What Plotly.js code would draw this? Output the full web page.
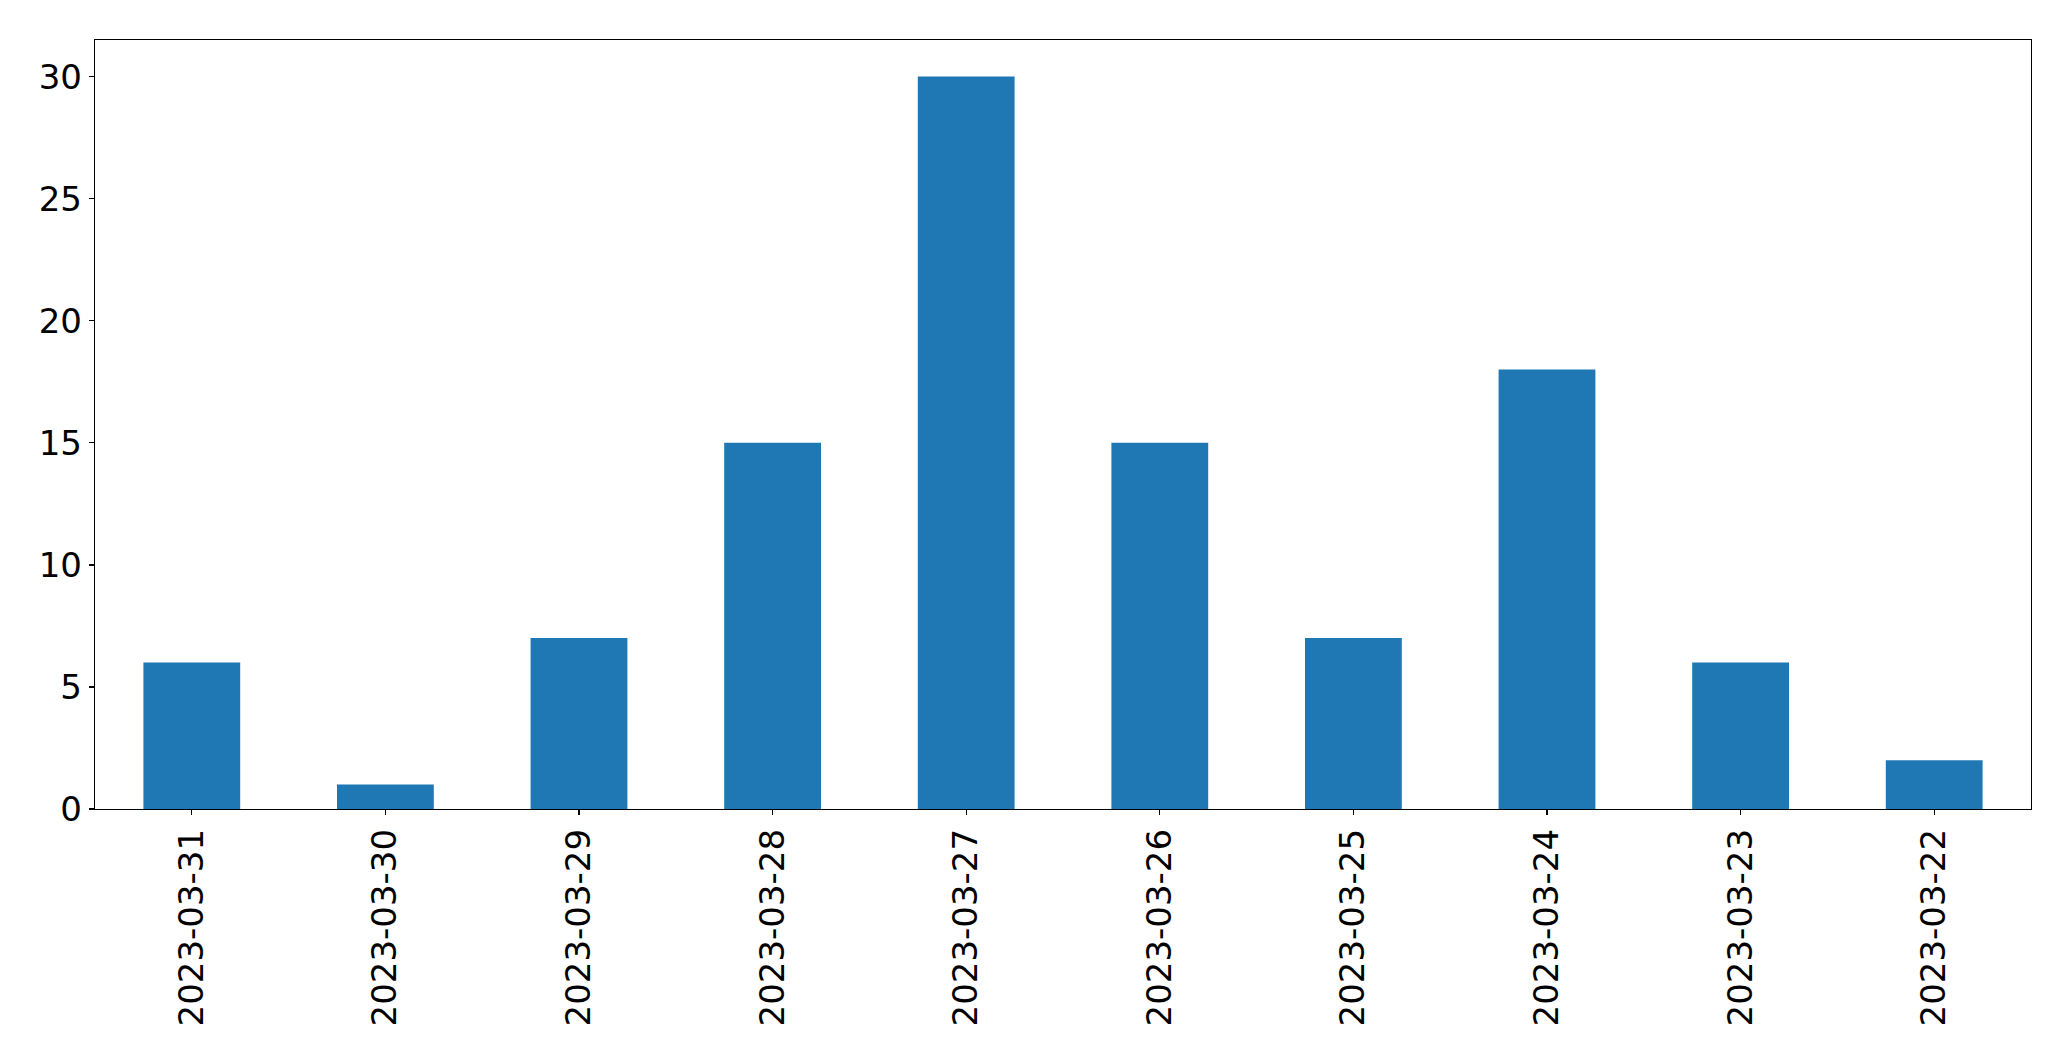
<!DOCTYPE html>
<html>
<head>
<meta charset="utf-8">
<script src="https://cdn.plot.ly/plotly-3.0.1.min.js"></script>
<style>html,body{margin:0;padding:0;background:#fff;}#chart{width:2071px;height:1061px;}</style>
</head>
<body>
<div id="chart"></div>
<script>
const dates = ["2023-03-31","2023-03-30","2023-03-29","2023-03-28","2023-03-27","2023-03-26","2023-03-25","2023-03-24","2023-03-23","2023-03-22"];
const counts = [6, 1, 7, 15, 30, 15, 7, 18, 6, 2];
const yTicks = [0, 5, 10, 15, 20, 25, 30];

const trace = {
  type: "bar",
  x: dates,
  y: counts,
  width: 0.5,
  marker: {color: "#1f77b4", line: {width: 0}},
  hoverinfo: "x+y"
};

const tf = {family: "DejaVu Sans, sans-serif", size: 34, color: "#000"};

const layout = {
  width: 2071,
  height: 1061,
  margin: {l: 94.5, r: 39.5, t: 39.5, b: 252, pad: 0},
  paper_bgcolor: "#fff",
  plot_bgcolor: "#fff",
  showlegend: false,
  bargap: 0.5,
  font: tf,
  xaxis: {
    type: "category",
    range: [-0.5, 9.5],
    tickangle: -90,
    ticks: "outside",
    ticklen: 5,
    tickwidth: 1.3,
    tickcolor: "#000",
    showline: true,
    linecolor: "#000",
    linewidth: 1.3,
    mirror: true,
    showgrid: false,
    zeroline: false,
    tickfont: tf
  },
  yaxis: {
    range: [0, 31.5],
    tickvals: yTicks,
    ticktext: yTicks.map(String),
    ticks: "outside",
    ticklen: 5,
    tickwidth: 1.3,
    tickcolor: "#000",
    showline: true,
    linecolor: "#000",
    linewidth: 1.3,
    mirror: true,
    showgrid: false,
    zeroline: false,
    tickfont: tf
  }
};

Plotly.newPlot("chart", [trace], layout, {displayModeBar: false, staticPlot: true});
</script>
</body>
</html>
